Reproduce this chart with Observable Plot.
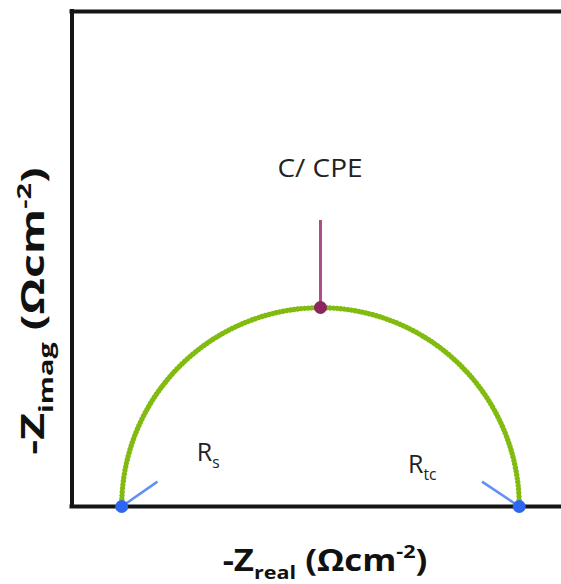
<!DOCTYPE html>
<html>
<head>
<meta charset="utf-8">
<script src="https://cdn.jsdelivr.net/npm/d3@7"></script>
<script src="https://cdn.jsdelivr.net/npm/@observablehq/plot@0.6"></script>
<style>
  html, body { margin: 0; padding: 0; background: #fff; }
  svg text { font-family: "Open Sans", sans-serif; }
</style>
</head>
<body>
<div id="chart"></div>
<script>
// ---- data (impedance units, Ω·cm²) ----
const Rs = 1;            // solution resistance (left intercept)
const Rct = 8;           // charge-transfer resistance (arc diameter)
const xDomain = [0, 9.85];
const yDomain = [0, 9.95];
const intercepts = [{x: Rs, y: 0}, {x: Rs + Rct, y: 0}];
const apex = [{x: Rs + Rct / 2, y: Rct / 2}];
const cpeStem = [{x: Rs + Rct / 2, y1: Rct / 2, y2: 5.75}];
const pointers = [
  {x1: Rs, y1: 0, x2: 1.72, y2: 0.5},
  {x1: Rs + Rct, y1: 0, x2: 8.25, y2: 0.5}
];
const arc = [{x: Rs + Rct / 2, y: 0, r: Rct / 2}];
const annotations = [
  {parts: [["C/ CPE"]], x: 5, y: 6.61, anchor: "middle", size: 25, stretch: 1.12},
  {parts: [["R"], ["s", "sub"]], x: 2.52, y: 0.9, anchor: "start", size: 25, stretch: 1},
  {parts: [["R"], ["tc", "sub"]], x: 6.77, y: 0.66, anchor: "start", size: 25, stretch: 1}
];
const xLabelParts = [["-Z"], ["real", "sub"], [" (Ωcm"], ["-2", "sup"], [")"]];
const yLabelParts = [["-Z"], ["imag", "sub"], [" (Ωcm"], ["-2", "sup"], [")"]];

// ---- layout ----
const W = 561, H = 584;
const mL = 71.5, mR = 0, mT = 11, mB = 78;

const plot = Plot.plot({
  width: W,
  height: H,
  marginLeft: mL,
  marginRight: mR,
  marginTop: mT,
  marginBottom: mB,
  x: {domain: xDomain, axis: null},
  y: {domain: yDomain, axis: null},
  r: {type: "linear", domain: [0, xDomain[1]], range: [0, W - mL - mR]},
  marks: [
    // arc (semicircle) : solid core + beaded edge
    Plot.dot(arc, {x: "x", y: "y", r: "r", fill: "none", stroke: "#a3d030", strokeWidth: 3, clip: true}),
    Plot.dot(arc, {x: "x", y: "y", r: "r", fill: "none", stroke: "#82bb10", strokeWidth: 5.4,
      strokeDasharray: "0.01 3.6", strokeLinecap: "round", clip: true}),
    // frame lines
    Plot.ruleX([xDomain[0]], {stroke: "#151515", strokeWidth: 4, strokeLinecap: "square"}),
    Plot.ruleY([yDomain[0], yDomain[1]], {stroke: "#151515", strokeWidth: 4, strokeLinecap: "square"}),
    // CPE stem and apex point
    Plot.ruleX(cpeStem, {x: "x", y1: "y1", y2: "y2", stroke: "#ad4f87", strokeWidth: 3}),
    Plot.dot(apex, {x: "x", y: "y", r: 6.5, fill: "#8d2660", stroke: "none"}),
    // resistance pointers and intercept points
    Plot.link(pointers, {x1: "x1", y1: "y1", x2: "x2", y2: "y2", stroke: "#5f8ff7", strokeWidth: 2.5}),
    Plot.dot(intercepts, {x: "x", y: "y", r: 6.5, fill: "#2d66f2", stroke: "none"})
  ]
});

document.getElementById("chart").appendChild(plot);

// ---- rich text (sub/superscripts) placed with the plot's own scales ----
const svg = d3.select(plot);
const sx = plot.scale("x"), sy = plot.scale("y");

function richText(g, parts, size) {
  let shift = 0;
  parts.forEach(([t, kind]) => {
    const ts = g.append("tspan").text(t);
    let target = 0, fs = size;
    if (kind === "sub") { target = size * 0.28; fs = size * 0.62; }
    if (kind === "sup") { target = -size * 0.42; fs = size * 0.62; }
    ts.attr("font-size", fs).attr("dy", target - shift);
    shift = target;
  });
}

const ann = svg.append("g").attr("fill", "#222");
annotations.forEach(a => {
  const t = ann.append("text")
    .attr("transform", `translate(${sx.apply(a.x)},${sy.apply(a.y)}) scale(${a.stretch},1)`)
    .attr("text-anchor", a.anchor)
    .attr("font-size", a.size);
  richText(t, a.parts, a.size);
});

const xl = svg.append("text")
  .attr("transform", "translate(325,571) scale(1.16,1)")
  .attr("text-anchor", "middle")
  .attr("font-weight", "bold")
  .attr("font-size", 30)
  .attr("fill", "#111");
richText(xl, xLabelParts, 30);

const yl = svg.append("text")
  .attr("transform", "translate(44,311) rotate(-90) scale(1.45,1)")
  .attr("text-anchor", "middle")
  .attr("font-weight", "bold")
  .attr("font-size", 32)
  .attr("fill", "#111");
richText(yl, yLabelParts, 32);
</script>
</body>
</html>
